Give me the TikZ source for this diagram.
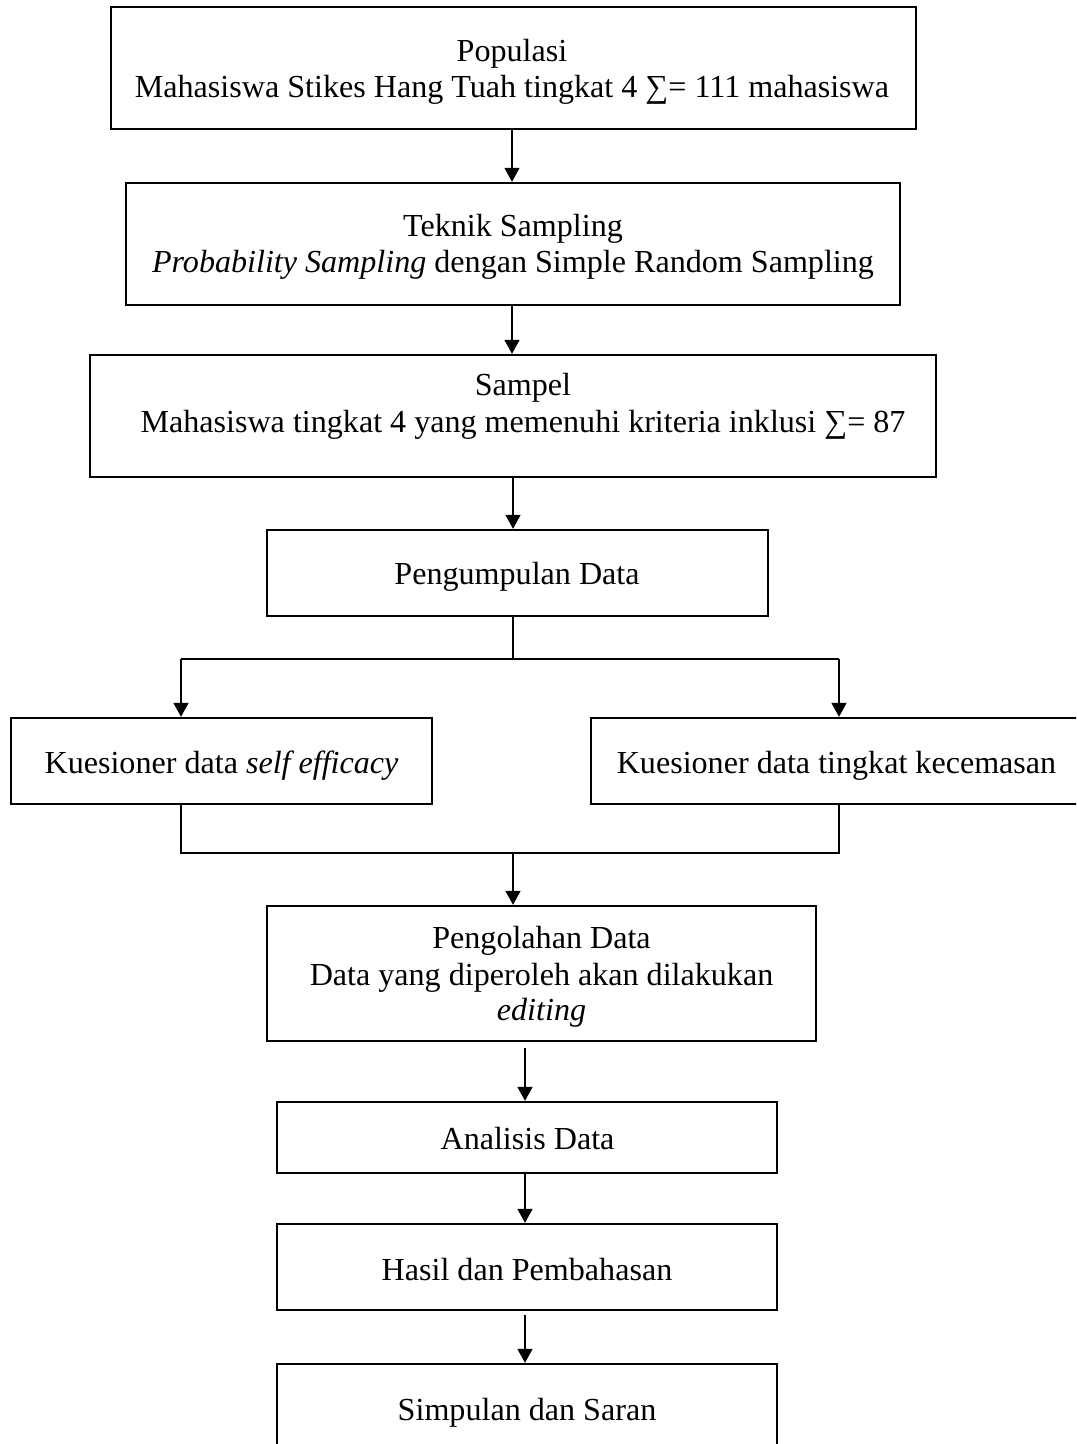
\documentclass[tikz,border=0pt]{standalone}
\usepackage{fontspec}
\setmainfont{Liberation Serif}
\usetikzlibrary{arrows.meta}
\begin{document}
\begin{tikzpicture}[x=0.5pt,y=-0.5pt,
  box/.style={draw, line width=1.2pt, rectangle, inner sep=0pt},
  txt/.style={inner sep=0pt, anchor=base, font=\fontsize{16.05pt}{18.4pt}\selectfont},
  conn/.style={line width=0.85pt},
  arr/.style={conn, -{Triangle[width=7.5pt,length=7pt]}}
]
\clip (0,0) rectangle (1076,1444);
\fill[white] (0,0) rectangle (1076,1444);

% boxes
\node[box, minimum width=402.5pt, minimum height=61pt] (b1) at (513.5,68) {};
\node[box, minimum width=387pt, minimum height=61pt] (b2) at (513,244) {};
\node[box, minimum width=423pt, minimum height=61pt] (b3) at (513,416) {};
\node[box, minimum width=250.5pt, minimum height=43pt] (b4) at (517.5,573) {};
\node[box, minimum width=210.5pt, minimum height=43pt] (b5) at (221.5,761) {};
\node[box, minimum width=245.5pt, minimum height=43pt] (b6) at (836.5,761) {};
\node[box, minimum width=274.5pt, minimum height=67.5pt] (b7) at (541.5,973.5) {};
\node[box, minimum width=250pt, minimum height=35.5pt] (b8) at (527,1137.5) {};
\node[box, minimum width=250pt, minimum height=43pt] (b9) at (527,1267) {};
\node[box, minimum width=250pt, minimum height=46pt] (b10) at (527,1410) {};

% texts
\node[txt] (t1a) at (512,62) {Populasi};
\node[txt] (t1b) at (512,98) {Mahasiswa Stikes Hang Tuah tingkat 4 ∑= 111 mahasiswa};
\node[txt] (t2a) at (513,237) {Teknik Sampling};
\node[txt] (t2b) at (513,273) {\textit{Probability Sampling} dengan Simple Random Sampling};
\node[txt] (t3a) at (523,395) {Sampel};
\node[txt] (t3b) at (523,432) {Mahasiswa tingkat 4 yang memenuhi kriteria inklusi ∑= 87};
\node[txt] (t4) at (517,584) {Pengumpulan Data};
\node[txt] (t5) at (221.5,773) {Kuesioner data \textit{self efficacy}};
\node[txt] (t6) at (836.5,773) {Kuesioner data tingkat kecemasan};
\node[txt] (t7a) at (541.5,948) {Pengolahan Data};
\node[txt] (t7b) at (541.5,985) {Data yang diperoleh akan dilakukan};
\node[txt] (t7c) at (541.5,1020) {\textit{editing}};
\node[txt] (t8) at (527.5,1149) {Analisis Data};
\node[txt] (t9) at (527,1280) {Hasil dan Pembahasan};
\node[txt] (t10) at (527,1420) {Simpulan dan Saran};

% connectors
\coordinate (ax) at (512,0);
\coordinate (ax2) at (513,0);
\coordinate (ax3) at (525,0);
\draw[arr] (b1.south -| ax) -- (b2.north -| ax);
\draw[arr] (b2.south -| ax) -- (b3.north -| ax);
\draw[arr] (b3.south -| ax2) -- (b4.north -| ax2);

\coordinate (split) at (513,659);
\coordinate (sl) at (181,659);
\coordinate (sr) at (839,659);
\draw[conn] (b4.south -| split) -- (split);
\draw[conn] (sl) -- (sr);
\draw[arr] (sl) -- (sl |- b5.north);
\draw[arr] (sr) -- (sr |- b6.north);

\coordinate (jl) at (181,853);
\coordinate (jr) at (839,853);
\coordinate (jm) at (513,853);
\draw[conn] (b5.south -| jl) -- (jl) -- (jr) -- (b6.south -| jr);
\draw[arr] (jm) -- (jm |- b7.north);

\draw[arr, shorten <=3pt] (b7.south -| ax3) -- (b8.north -| ax3);
\draw[arr] (b8.south -| ax3) -- (b9.north -| ax3);
\draw[arr, shorten <=2pt] (b9.south -| ax3) -- (b10.north -| ax3);
\end{tikzpicture}
\end{document}
